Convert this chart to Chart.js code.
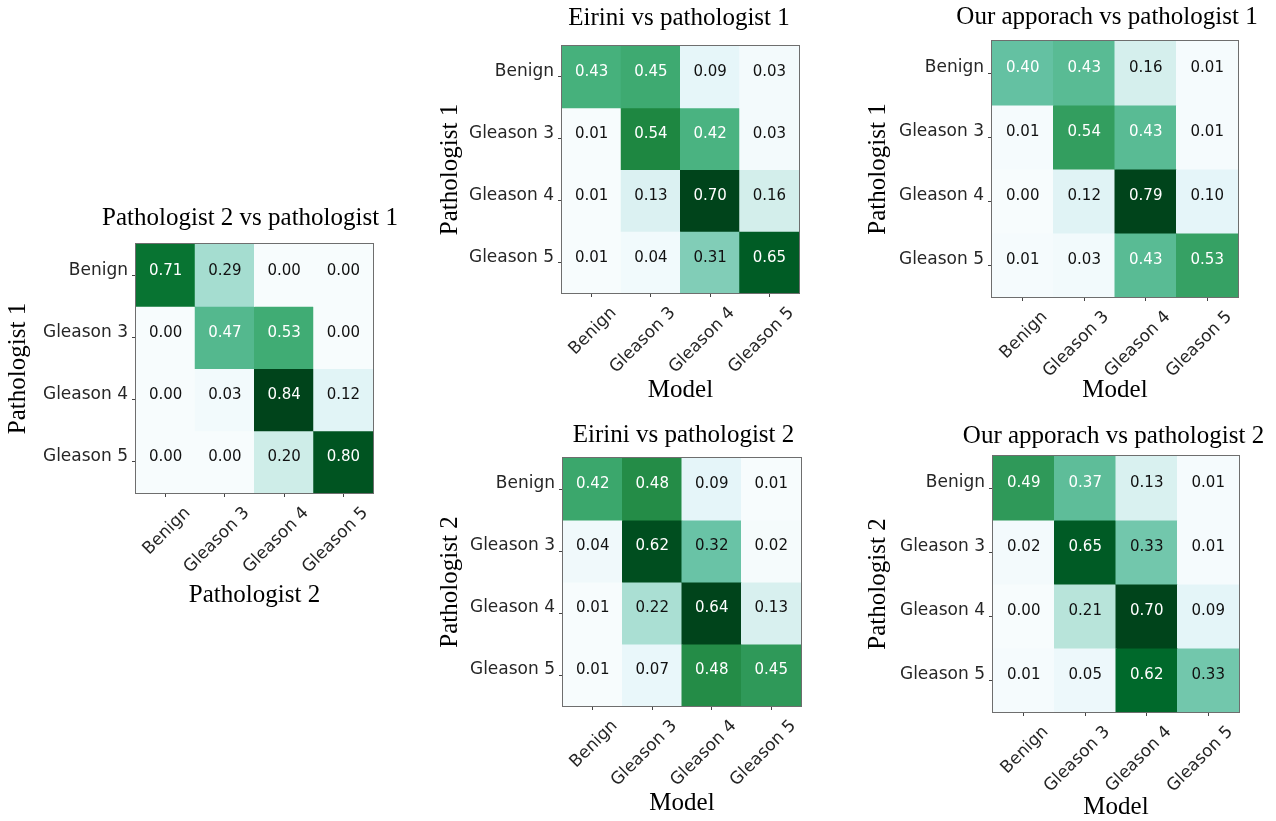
<!DOCTYPE html>
<html>
<head>
<meta charset="utf-8">
<title>Gleason grading agreement</title>
<script src="https://cdn.jsdelivr.net/npm/chart.js@4.4.0/dist/chart.umd.min.js"></script>
<style>
  html, body { margin: 0; padding: 0; background: #ffffff; }
  body { position: relative; width: 1276px; height: 821px; overflow: hidden; }
  canvas { position: absolute; }
</style>
</head>
<body>
<script>
// Grade categories shared by every matrix (rows = reference reader, columns = compared reader)
const gradeLabels = ['Benign', 'Gleason 3', 'Gleason 4', 'Gleason 5'];

// Row-normalised confusion matrices
const pathologist2VsPathologist1 = [
  [0.71, 0.29, 0.00, 0.00],
  [0.00, 0.47, 0.53, 0.00],
  [0.00, 0.03, 0.84, 0.12],
  [0.00, 0.00, 0.20, 0.80]
];
const eiriniVsPathologist1 = [
  [0.43, 0.45, 0.09, 0.03],
  [0.01, 0.54, 0.42, 0.03],
  [0.01, 0.13, 0.70, 0.16],
  [0.01, 0.04, 0.31, 0.65]
];
const oursVsPathologist1 = [
  [0.40, 0.43, 0.16, 0.01],
  [0.01, 0.54, 0.43, 0.01],
  [0.00, 0.12, 0.79, 0.10],
  [0.01, 0.03, 0.43, 0.53]
];
const eiriniVsPathologist2 = [
  [0.42, 0.48, 0.09, 0.01],
  [0.04, 0.62, 0.32, 0.02],
  [0.01, 0.22, 0.64, 0.13],
  [0.01, 0.07, 0.48, 0.45]
];
const oursVsPathologist2 = [
  [0.49, 0.37, 0.13, 0.01],
  [0.02, 0.65, 0.33, 0.01],
  [0.00, 0.21, 0.70, 0.09],
  [0.01, 0.05, 0.62, 0.33]
];

// Panel layout: plot box [left, top, right, bottom], title centre, axis title anchors
const panels = [
  { title: 'Pathologist 2 vs pathologist 1', xTitle: 'Pathologist 2', yTitle: 'Pathologist 1',
    values: pathologist2VsPathologist1, box: [136, 244, 373, 493], titleAt: [250, 218], yTitleX: 18, xTitleY: 595 },
  { title: 'Eirini vs pathologist 1', xTitle: 'Model', yTitle: 'Pathologist 1',
    values: eiriniVsPathologist1, box: [562, 46, 799, 293], titleAt: [679, 18], yTitleX: 450, xTitleY: 390 },
  { title: 'Our apporach vs pathologist 1', xTitle: 'Model', yTitle: 'Pathologist 1',
    values: oursVsPathologist1, box: [992, 41, 1238, 297], titleAt: [1107, 17], yTitleX: 878, xTitleY: 390 },
  { title: 'Eirini vs pathologist 2', xTitle: 'Model', yTitle: 'Pathologist 2',
    values: eiriniVsPathologist2, box: [563, 458, 801, 706], titleAt: [683.5, 435], yTitleX: 450, xTitleY: 803 },
  { title: 'Our apporach vs pathologist 2', xTitle: 'Model', yTitle: 'Pathologist 2',
    values: oursVsPathologist2, box: [993, 456, 1239, 712], titleAt: [1113.5, 436], yTitleX: 878, xTitleY: 807 }
];

const SANS = '"DejaVu Sans", "Noto Sans", sans-serif';
const SERIF = '"Liberation Serif", "Times New Roman", serif';
const SERIF_SIZE = 25;
const SERIF_LINE = SERIF_SIZE * 1.2;

// BuGn sequential colour ramp
const bugnStops = ['#f7fcfd', '#e5f5f9', '#ccece6', '#99d8c9', '#66c2a4', '#41ae76', '#238b45', '#006d2c', '#00441b'];
function hexToRgb(h) {
  return [parseInt(h.slice(1, 3), 16), parseInt(h.slice(3, 5), 16), parseInt(h.slice(5, 7), 16)];
}
const bugnRgb = bugnStops.map(hexToRgb);
function bugn(t) {
  t = Math.max(0, Math.min(1, t));
  const s = t * (bugnRgb.length - 1);
  const i = Math.min(Math.floor(s), bugnRgb.length - 2);
  const f = s - i;
  const a = bugnRgb[i], b = bugnRgb[i + 1];
  const c = a.map((v, k) => Math.round(v + (b[k] - v) * f));
  return `rgb(${c[0]},${c[1]},${c[2]})`;
}

// Writes each cell's value on top of it and frames the plot box
const cellValuesPlugin = {
  id: 'cellValues',
  afterDatasetsDraw(chart, args, opts) {
    const { ctx, chartArea } = chart;
    const vals = opts.values;
    const max = Math.max(...vals.flat());
    ctx.save();
    ctx.font = `15px ${SANS}`;
    ctx.textAlign = 'center';
    ctx.textBaseline = 'middle';
    chart.data.datasets.forEach((ds, r) => {
      chart.getDatasetMeta(r).data.forEach((bar, c) => {
        const v = vals[r][c];
        const cy = (bar.y + bar.base) / 2;
        ctx.fillStyle = v > max / 2 ? '#ffffff' : '#111111';
        ctx.fillText(v.toFixed(2), bar.x, cy + opts.shift);
      });
    });
    const l = Math.round(chartArea.left), t = Math.round(chartArea.top);
    const rr = Math.round(chartArea.right), b = Math.round(chartArea.bottom);
    ctx.strokeStyle = '#6e6e6e';
    ctx.lineWidth = 1;
    ctx.strokeRect(l - 0.5, t - 0.5, rr - l + 1, b - t + 1);
    ctx.restore();
  }
};

panels.forEach((p) => {
  const [x0, y0, x1, y1] = p.box;
  const [tx, ty] = p.titleAt;
  const half = SERIF_LINE / 2;

  const left = Math.floor(p.yTitleX - half) - 2;
  const yTitlePad = p.yTitleX - half - left;
  const yAxisWidth = x0 - left;

  const top = Math.floor(ty - half) - 2;
  const titlePadTop = ty - half - top;
  const titlePadBottom = y0 - ty - half;

  const axisBottom = p.xTitleY + half + 2;
  const xAxisHeight = axisBottom - y1;

  // canvas is symmetric about the title centre; an empty right-hand gutter fills the rest
  const width = Math.round(2 * (tx - left));
  const gutter = left + width - x1;

  const canvas = document.createElement('canvas');
  canvas.width = width;
  canvas.height = Math.ceil(axisBottom - top);
  canvas.style.left = left + 'px';
  canvas.style.top = top + 'px';
  canvas.style.width = canvas.width + 'px';
  canvas.style.height = canvas.height + 'px';
  document.body.appendChild(canvas);

  const vals = p.values;
  const vmin = Math.min(...vals.flat());
  const vmax = Math.max(...vals.flat());

  const datasets = vals.map((row, r) => ({
    label: gradeLabels[r],
    data: row.map(() => [r, r + 1]),
    backgroundColor: row.map((v) => bugn((v - vmin) / (vmax - vmin))),
    borderWidth: 0,
    grouped: false,
    barPercentage: 1,
    categoryPercentage: 1,
    inflateAmount: 0.5
  }));

  const serifFont = { family: SERIF, size: SERIF_SIZE, weight: 'normal', lineHeight: 1.2 };

  new Chart(canvas, {
    type: 'bar',
    data: { labels: gradeLabels, datasets },
    options: {
      responsive: false,
      animation: false,
      events: [],
      layout: { padding: 0 },
      plugins: {
        legend: { display: false },
        tooltip: { enabled: false },
        title: {
          display: true,
          text: p.title,
          color: '#000000',
          font: serifFont,
          padding: { top: titlePadTop, bottom: titlePadBottom }
        },
        cellValues: { values: vals, shift: -4.5 }
      },
      scales: {
        x: {
          type: 'category',
          offset: true,
          grid: { display: true, offset: false, drawOnChartArea: false, drawTicks: true,
                  tickLength: 4, color: '#444444', tickColor: '#444444', tickWidth: 1 },
          border: { display: false },
          ticks: { color: '#262626', font: { family: SANS, size: 17 }, minRotation: 45, maxRotation: 45,
                   autoSkip: false, padding: 6, labelOffset: 22 },
          title: { display: true, text: p.xTitle, color: '#000000', font: serifFont,
                   padding: { top: 0, bottom: 2 } },
          afterFit: (s) => { s.height = xAxisHeight; }
        },
        y: {
          type: 'linear',
          min: 0,
          max: 4,
          reverse: true,
          afterBuildTicks: (s) => { s.ticks = gradeLabels.map((_, i) => ({ value: i + 0.5 })); },
          grid: { display: true, drawOnChartArea: false, drawTicks: true,
                  tickLength: 4, color: '#444444', tickColor: '#444444', tickWidth: 1 },
          border: { display: false },
          ticks: { color: '#262626', font: { family: SANS, size: 17 }, autoSkip: false, padding: 4,
                   labelOffset: -5, callback: (v, i) => gradeLabels[i] },
          title: { display: true, text: p.yTitle, color: '#000000', font: serifFont,
                   padding: { top: yTitlePad, bottom: 0 } },
          afterFit: (s) => { s.width = yAxisWidth; }
        },
        gutter: {
          type: 'linear',
          position: 'right',
          display: true,
          min: 0,
          max: 1,
          grid: { display: false },
          border: { display: false },
          ticks: { display: false },
          afterFit: (s) => { s.width = gutter; }
        }
      }
    },
    plugins: [cellValuesPlugin]
  });
});
</script>
</body>
</html>
